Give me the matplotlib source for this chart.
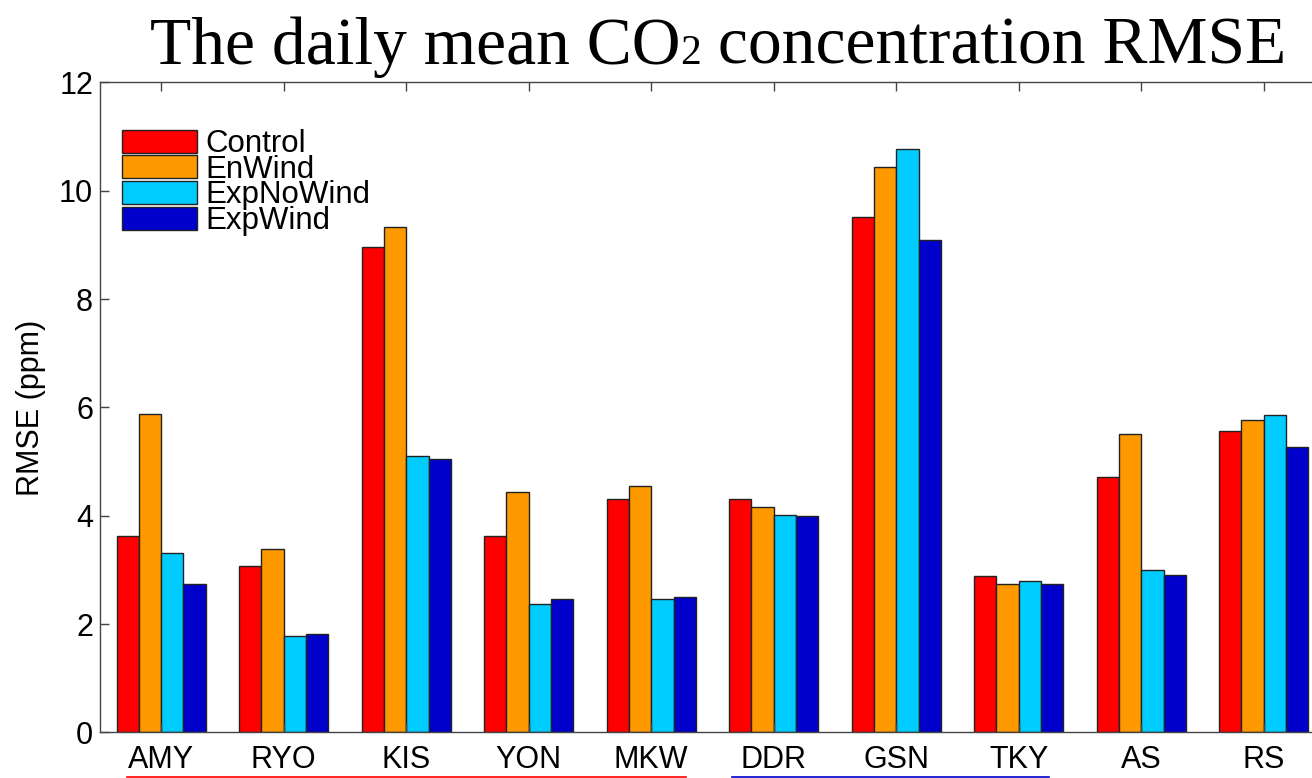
import numpy as np
import matplotlib
matplotlib.use("Agg")
import matplotlib.pyplot as plt
from matplotlib.lines import Line2D
from matplotlib.transforms import blended_transform_factory

# daily mean CO2 RMSE (ppm) per station and experiment
stations = ["AMY", "RYO", "KIS", "YON", "MKW", "DDR", "GSN", "TKY", "AS", "RS"]
control = [3.63, 3.08, 8.96, 3.63, 4.30, 4.30, 9.51, 2.89, 4.72, 5.56]
enwind = [5.87, 3.38, 9.34, 4.43, 4.54, 4.16, 10.43, 2.74, 5.51, 5.77]
exp_nowind = [3.31, 1.77, 5.10, 2.37, 2.46, 4.01, 10.78, 2.79, 3.00, 5.86]
exp_wind = [2.73, 1.81, 5.05, 2.46, 2.50, 3.99, 9.10, 2.74, 2.91, 5.27]

series = [("Control", control, "#FF0000"),
          ("EnWind", enwind, "#FF9900"),
          ("ExpNoWind", exp_nowind, "#00CCFF"),
          ("ExpWind", exp_wind, "#0000CC")]

plt.rcParams["font.family"] = ["Liberation Sans", "DejaVu Sans"]

fig = plt.figure(figsize=(13.12, 7.78), dpi=100)
ax = fig.add_axes([0.0762, 0.0587, 0.9337, 0.8353])

x = np.arange(1, len(stations) + 1)
group_w = 4 / 5.5          # matlab-style grouped bar width
bw = group_w / 4
for i, (name, vals, col) in enumerate(series):
    off = (i - 1.5) * bw
    ax.bar(x + off, vals, width=bw, color=col, edgecolor="#222222",
           linewidth=1.0, label=name)

ax.set_xlim(0.5, len(stations) + 0.5)
ax.set_ylim(0, 12)
ax.set_xticks(x)
ax.set_xticklabels(stations)
ax.set_yticks(np.arange(0, 13, 2))
ax.tick_params(direction="in", top=True, right=True, length=6.5,
               width=1.0, color="#444444", labelsize=22)
ax.tick_params(axis="x", pad=9)
ax.tick_params(axis="y", pad=5)
for sp in ax.spines.values():
    sp.set_color("#444444")
    sp.set_linewidth(1.0)
ax.set_ylabel("RMSE (ppm)", fontsize=22, labelpad=9)

leg = ax.legend(loc="upper left", bbox_to_anchor=(0.003, 0.957), frameon=False,
                fontsize=22.5, handlelength=2.4, handleheight=0.75,
                handletextpad=0.25, labelspacing=-0.14, borderaxespad=0.2)

# station grouping lines under the tick labels
trans = blended_transform_factory(ax.transData, fig.transFigure)
fig.add_artist(Line2D([0.72, 5.28], [0.0019, 0.0019], transform=trans,
                      color="#FF0000", lw=1.2))
fig.add_artist(Line2D([5.66, 8.25], [0.0019, 0.0019], transform=trans,
                      color="#0000CC", lw=1.2))

# title with a small, baseline-aligned "2"
base_y = 0.918
t1 = fig.text(0.1143, base_y, "The daily mean CO", fontsize=48.6,
              family="Liberation Serif", va="baseline", ha="left")
t2 = fig.text(0, 0, "2", fontsize=30, family="Liberation Serif",
              va="baseline", ha="left")
t3 = fig.text(0, 0, " concentration RMSE", fontsize=48.6,
              family="Liberation Serif", va="baseline", ha="left")
fig.canvas.draw()
r = fig.canvas.get_renderer()
inv = fig.transFigure.inverted()
x1 = inv.transform(t1.get_window_extent(r))[1][0]
t2.set_position((x1, base_y))
x2 = inv.transform(t2.get_window_extent(r))[1][0]
t3.set_position((x2, base_y))

fig.savefig("out.png", dpi=100)
